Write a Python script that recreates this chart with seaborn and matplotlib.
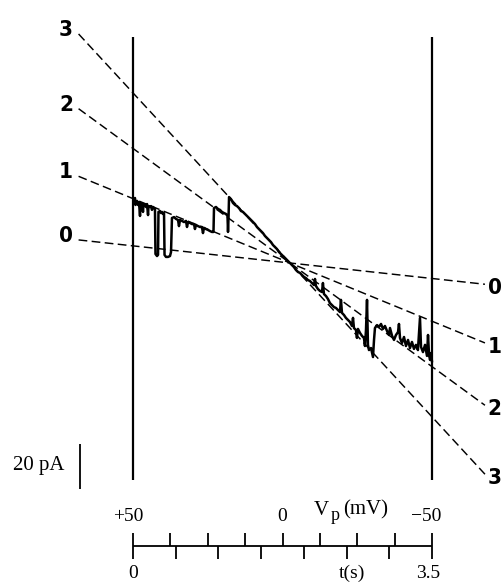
import numpy as np
import matplotlib
matplotlib.use("Agg")
import matplotlib.pyplot as plt
import seaborn as sns

# dashed lines: slope conductance (nS) for 0..3 open channels
levels = ["0", "1", "2", "3"]
conductance = [0.145, 0.545, 0.97, 1.44]
e_rev = -2.5          # mV, where the lines cross
line_v = [68.2, -67.7]

# voltage ramp +50 -> -50 mV over 3.5 s
ramp_v = [50, -50]
ramp_t = [0, 3.5]
v_ticks = [50, 37.5, 25, 12.5, 0, -12.5, -25, -37.5, -50]
t_ticks = [0, 0.5, 1.0, 1.5, 2.0, 2.5, 3.0, 3.5]
step_top, step_bottom = 100.4, -96.4   # pA, capacitive edges
scale_pa = 20

# current trace (t in s, I in pA)
trace_t = [0.023, 0.029, 0.047, 0.059, 0.070, 0.082, 0.088, 0.105, 0.117, 0.123,
           0.140, 0.152, 0.164, 0.176, 0.181, 0.199, 0.211, 0.222, 0.234, 0.246,
           0.257, 0.263, 0.281, 0.293, 0.298, 0.316, 0.328, 0.339, 0.351, 0.363,
           0.369, 0.386, 0.410, 0.433, 0.445, 0.456, 0.480, 0.503, 0.527, 0.538,
           0.550, 0.573, 0.597, 0.620, 0.632, 0.644, 0.667, 0.690, 0.714, 0.725,
           0.737, 0.761, 0.784, 0.807, 0.819, 0.831, 0.854, 0.878, 0.901, 0.924,
           0.942, 0.948, 0.971, 0.995, 1.018, 1.041, 1.065, 1.088, 1.106, 1.112,
           1.118, 1.124, 1.147, 1.170, 1.194, 1.217, 1.241, 1.264, 1.287, 1.311,
           1.334, 1.358, 1.381, 1.404, 1.428, 1.451, 1.474, 1.498, 1.521, 1.545,
           1.568, 1.591, 1.615, 1.638, 1.662, 1.685, 1.708, 1.732, 1.755, 1.779,
           1.802, 1.837, 1.861, 1.884, 1.907, 1.931, 1.954, 1.978, 2.001, 2.024,
           2.048, 2.071, 2.095, 2.118, 2.130, 2.141, 2.165, 2.188, 2.212, 2.223,
           2.235, 2.259, 2.282, 2.305, 2.329, 2.352, 2.376, 2.399, 2.422, 2.434,
           2.446, 2.469, 2.492, 2.516, 2.539, 2.563, 2.575, 2.586, 2.610, 2.621,
           2.633, 2.657, 2.680, 2.703, 2.715, 2.727, 2.739, 2.750, 2.762, 2.786,
           2.809, 2.821, 2.832, 2.856, 2.879, 2.903, 2.926, 2.949, 2.973, 2.996,
           3.008, 3.032, 3.055, 3.078, 3.102, 3.113, 3.125, 3.148, 3.172, 3.195,
           3.219, 3.242, 3.265, 3.289, 3.312, 3.335, 3.359, 3.371, 3.394, 3.418,
           3.441, 3.453, 3.465, 3.477, 3.488, 3.500]
trace_i = [28.9, 25.8, 27.6, 25.8, 27.1, 20.9, 26.7, 26.2, 22.7, 26.2,
           25.8, 24.9, 26.2, 21.3, 25.3, 24.9, 25.3, 23.6, 24.9, 24.4,
           24.0, 4.0, 3.1, 3.6, 22.7, 23.1, 22.2, 22.7, 21.8, 22.2,
           3.6, 2.7, 2.7, 3.1, 4.9, 20.0, 20.4, 19.6, 19.1, 16.4,
           19.1, 18.7, 18.2, 18.7, 16.0, 18.2, 17.8, 17.3, 17.3, 15.1,
           16.9, 16.4, 16.0, 16.0, 13.3, 15.6, 15.1, 14.7, 14.2, 13.8,
           13.8, 24.4, 24.9, 24.0, 23.6, 22.7, 22.2, 21.8, 20.9, 13.8,
           20.0, 29.3, 28.4, 26.7, 25.8, 25.3, 24.4, 23.1, 22.7, 21.8,
           20.9, 20.0, 19.1, 18.2, 17.3, 16.0, 15.1, 14.2, 13.3, 12.0,
           11.1, 10.2, 9.3, 8.0, 7.1, 6.2, 4.9, 4.0, 3.1, 2.2,
           1.3, 0.0, -0.9, -1.8, -3.1, -4.0, -4.4, -5.3, -6.2, -6.7,
           -7.6, -8.0, -8.9, -9.8, -7.1, -10.2, -11.6, -12.4, -12.9, -8.9,
           -13.8, -14.7, -16.0, -17.8, -18.7, -19.6, -20.0, -20.9, -21.8, -16.4,
           -22.2, -23.1, -24.4, -25.3, -26.2, -28.0, -24.4, -28.9, -29.8, -33.3,
           -29.3, -31.1, -32.4, -33.3, -36.9, -29.8, -16.4, -36.4, -38.7, -37.8,
           -41.8, -34.2, -28.9, -27.6, -28.4, -27.1, -29.3, -28.0, -30.2, -32.0,
           -28.9, -32.4, -34.2, -32.0, -30.7, -27.1, -33.3, -35.6, -32.9, -36.9,
           -34.2, -37.8, -35.1, -38.2, -36.4, -38.7, -24.4, -37.3, -39.6, -36.4,
           -41.3, -32.0, -40.9, -43.1, -40.0, -44.0]


def t_to_v(t):
    t = np.asarray(t, dtype=float)
    return ramp_v[0] + (ramp_v[1] - ramp_v[0]) * (t - ramp_t[0]) / (ramp_t[1] - ramp_t[0])


sns.set_style("white")
plt.rcParams["font.family"] = ["Liberation Serif", "DejaVu Serif"]
plt.rcParams["text.color"] = "black"
label_kw = dict(ha="center", va="center", fontsize=16, fontweight="bold",
                family="DejaVu Sans", fontstretch="condensed", color="black")

fig = plt.figure(figsize=(5.02, 5.82), dpi=100)
ax = fig.add_axes([0, 0, 1, 1])

# dashed conductance lines with their labels at both ends
for lab, g in zip(levels, conductance):
    v = np.array(line_v)
    i = g * (v - e_rev)
    ax.plot(v, i, color="black", lw=1.05, dashes=(6, 3))
    ax.annotate(lab, (v[0], i[0]), xytext=(-9, 3), textcoords="offset points", **label_kw)
    ax.annotate(lab, (v[1], i[1]), xytext=(7, -3), textcoords="offset points", **label_kw)

# single-channel current during the ramp
sns.lineplot(x=t_to_v(trace_t), y=trace_i, ax=ax, color="black", lw=1.8,
             estimator=None, sort=False)

# step edges at +50 and -50 mV
ax.vlines(ramp_v, step_bottom, step_top, color="black", lw=1.6)

# 20 pA scale bar
ax.vlines(67.7, -80.4 - scale_pa, -80.4, color="black", lw=1.3)
ax.text(81.4, -90.2, "20 pA", ha="center", va="center", fontsize=15)

# combined voltage / time axis
axis_i = -126.0
ax.hlines(axis_i, ramp_v[0], ramp_v[1], color="black", lw=1.3)
ax.vlines(v_ticks, axis_i, axis_i + 6.0, color="black", lw=1.3)
ax.vlines(t_to_v(t_ticks), axis_i - 5.5, axis_i, color="black", lw=1.3)

ax.text(51.7, -112.8, "+50", ha="center", va="center", fontsize=14)
ax.text(0, -112.8, "0", ha="center", va="center", fontsize=14)
ax.text(-48.0, -112.8, "\u221250", ha="center", va="center", fontsize=14)
ax.text(-10.6, -112.0, "V", ha="left", va="baseline", fontsize=15)
ax.text(-16.2, -114.4, "p", ha="left", va="baseline", fontsize=13)
ax.text(-20.4, -112.0, "(mV)", ha="left", va="baseline", fontsize=15)

ax.text(t_to_v(0), -137.8, "0", ha="center", va="center", fontsize=14)
ax.text(-23.2, -137.8, "t(s)", ha="center", va="center", fontsize=14)
ax.text(t_to_v(3.5) + 1.3, -137.8, "3.5", ha="center", va="center", fontsize=14)

ax.set_xlim(94.48, -73.4)
ax.set_ylim(-141.8, 116.9)
ax.axis("off")

fig.savefig("out.png", dpi=100)
